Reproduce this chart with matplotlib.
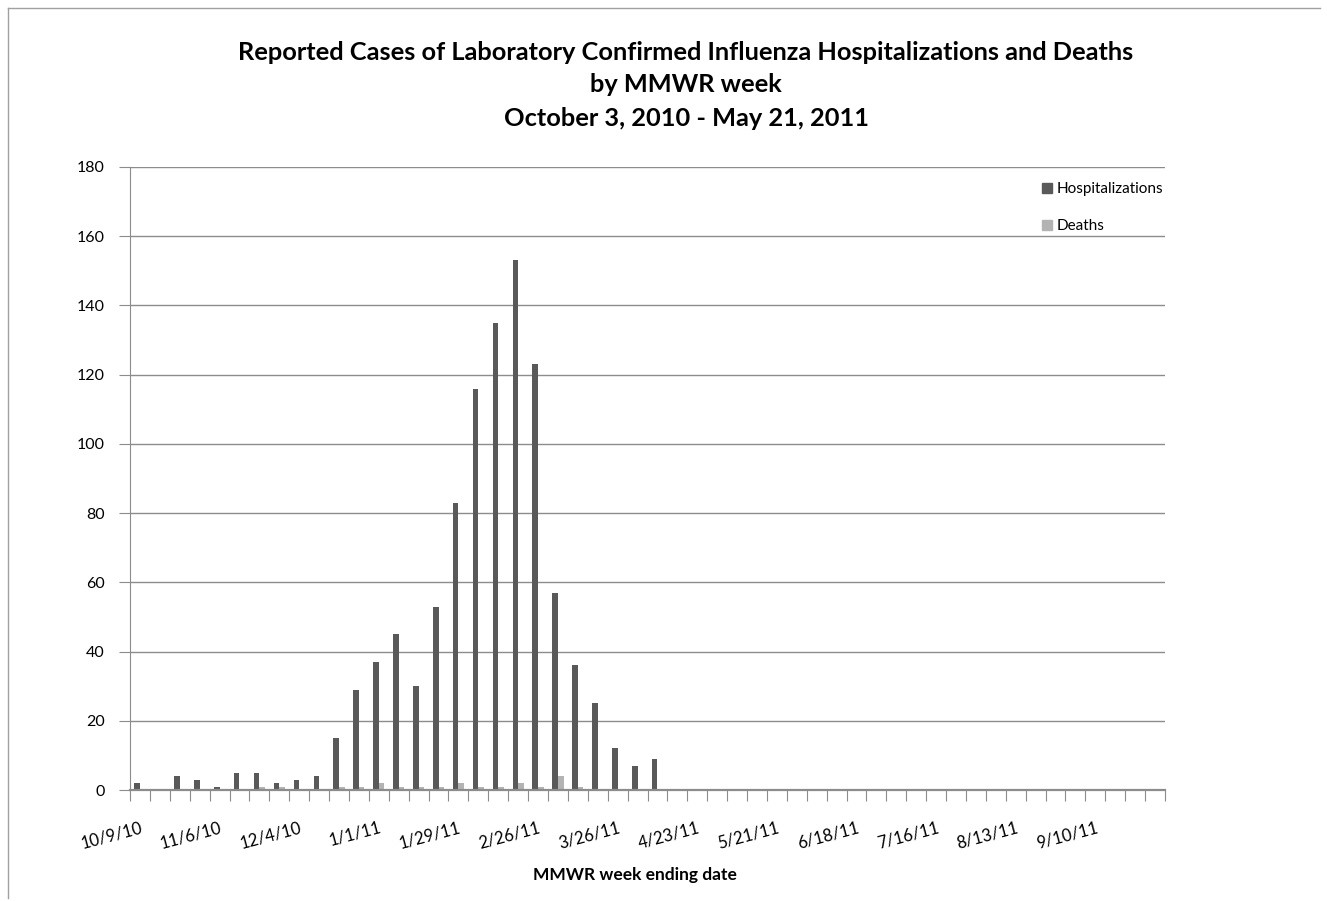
import matplotlib
matplotlib.use("Agg")
import matplotlib.pyplot as plt
from matplotlib.lines import Line2D
import numpy as np

plt.rcParams['font.family'] = ['Lato', 'DejaVu Sans']

# weekly data, week ending 10/9/10 ... 10/1/11 (52 weeks)
hospitalizations = [2, 0, 4, 3, 1, 5, 5, 2, 3, 4,
                    15, 29, 37, 45, 30, 53, 83, 116, 135, 153,
                    123, 57, 36, 25, 12, 7, 9, 0, 0, 0,
                    0, 0, 0, 0, 0, 0, 0, 0, 0, 0,
                    0, 0, 0, 0, 0, 0, 0, 0, 0, 0,
                    0, 0]
deaths = [0, 0, 0, 0, 0, 0, 1, 1, 0, 0,
          1, 1, 2, 1, 1, 1, 2, 1, 1, 2,
          1, 4, 1, 0, 0, 0, 0, 0, 0, 0,
          0, 0, 0, 0, 0, 0, 0, 0, 0, 0,
          0, 0, 0, 0, 0, 0, 0, 0, 0, 0,
          0, 0]
tick_labels = ["10/9/10", "11/6/10", "12/4/10", "1/1/11", "1/29/11", "2/26/11",
               "3/26/11", "4/23/11", "5/21/11", "6/18/11", "7/16/11", "8/13/11",
               "9/10/11"]

DARK = "#595959"
LIGHT = "#b3b3b3"
AXIS = "#8c8c8c"

fig = plt.figure(figsize=(13.27, 9.01), dpi=100)
W, H = 1327, 901
ax = fig.add_axes([130 / W, 1 - 790 / H, (1165 - 130) / W, (790 - 167) / H])

x = np.arange(len(hospitalizations))
bw = 0.28
ax.bar(x - bw / 2, hospitalizations, width=bw, color=DARK, zorder=3)
ax.bar(x + bw / 2, deaths, width=bw, color=LIGHT, zorder=3)

ax.set_xlim(-0.5, len(x) - 0.5)
ax.set_ylim(0, 180)
ax.set_yticks(range(0, 181, 20))
ax.yaxis.grid(True, color=AXIS, linewidth=1.0, zorder=0)
ax.tick_params(axis='y', length=8, color=AXIS, labelsize=11.5, pad=10)

# category boundary ticks, labels every 4th week
ax.set_xticks(np.arange(-0.5, len(x)), minor=False)
ax.set_xticklabels([])
ax.tick_params(axis='x', which='major', length=8, color=AXIS, direction='out')
ax.set_xticks(np.arange(0, len(x), 4)[:len(tick_labels)], minor=True)
ax.set_xticklabels(tick_labels, minor=True, rotation=15, ha='right',
                   rotation_mode='anchor', fontsize=12)
ax.tick_params(axis='x', which='minor', length=0, pad=21)

for s in ['top', 'right']:
    ax.spines[s].set_visible(False)
ax.spines['left'].set_color(AXIS)
ax.spines['bottom'].set_color(AXIS)
ax.spines['bottom'].set_linewidth(1.6)
ax.spines['bottom'].set_zorder(4)

# title
title_lines = ["Reported Cases of Laboratory Confirmed Influenza Hospitalizations and Deaths",
               "by MMWR week", "October 3, 2010 - May 21, 2011"]
for line, ypix in zip(title_lines, [52, 84, 118]):
    fig.text(686 / W, 1 - ypix / H, line, ha='center', va='center',
             fontsize=18.3, fontweight='bold')

fig.text(635 / W, 1 - 875 / H, "MMWR week ending date", ha='center', va='center',
         fontsize=12.5, fontweight='bold')

# legend
handles = [Line2D([], [], marker='s', linestyle='none', color=DARK, markersize=7),
           Line2D([], [], marker='s', linestyle='none', color=LIGHT, markersize=7)]
fig.legend(handles, ["Hospitalizations", "Deaths"], loc='upper left',
           bbox_to_anchor=(1038 / W, 1 - 179 / H), frameon=False, fontsize=11,
           handletextpad=0.25, labelspacing=1.53, handlelength=0.8,
           borderaxespad=0, borderpad=0.2)

# outer chart border
fig.add_artist(Line2D([8 / W, 8 / W], [1 - 8 / H, 1 - 898 / H], color="#a0a0a0", lw=1,
                      transform=fig.transFigure))
fig.add_artist(Line2D([8 / W, 1320 / W], [1 - 8 / H, 1 - 8 / H], color="#a0a0a0", lw=1,
                      transform=fig.transFigure))

fig.savefig("out.png", dpi=100)
